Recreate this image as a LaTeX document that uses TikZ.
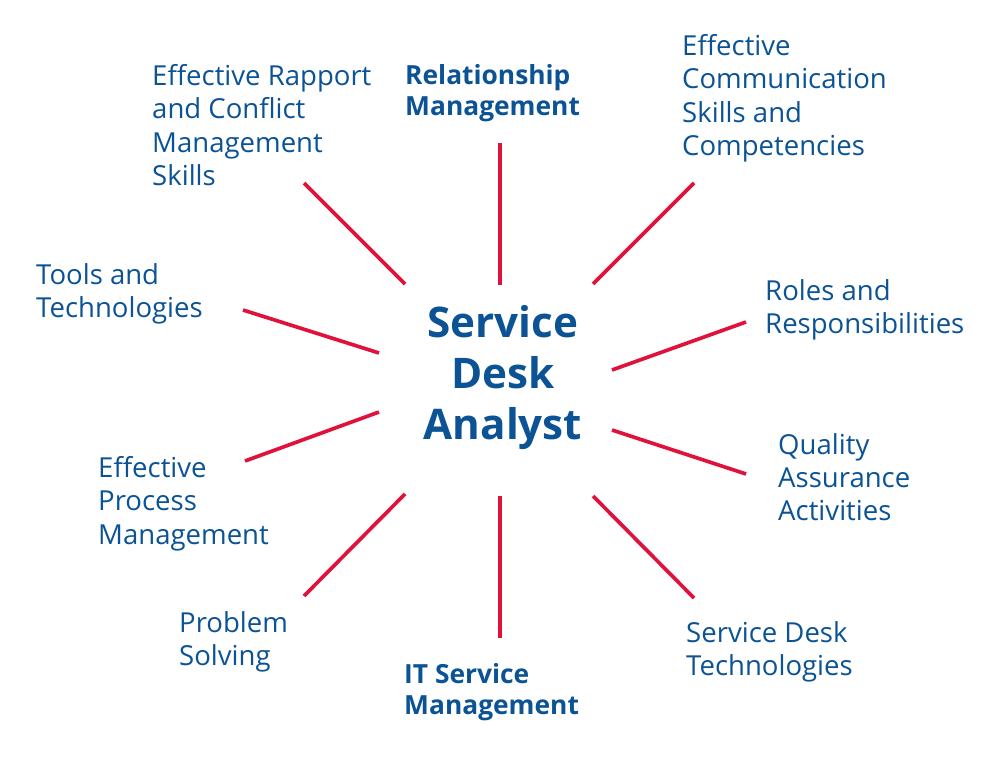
\documentclass[tikz,border=0pt]{standalone}
\usepackage{fontspec}
\setmainfont{Open Sans}
\definecolor{deskblue}{HTML}{0B5394}
\definecolor{spokered}{HTML}{E0123C}
\tikzset{
  spoke/.style={spokered, line width=1.1mm},
  topic/.style={anchor=north west, inner sep=0pt, align=left, text=deskblue,
    font=\fontsize{23.5pt}{28.5pt}\selectfont},
  maintopic/.style={topic, font=\bfseries\fontsize{22.5pt}{26.5pt}\selectfont}
}
\begin{document}
\begin{tikzpicture}[x=0.3mm, y=-0.3mm]
        \useasboundingbox (0,0) rectangle (1001,758);
        % Centre
        \node[text=deskblue, align=center, font=\bfseries\fontsize{36pt}{43.5pt}\selectfont] (analyst) at (503,378) {Service\\Desk\\Analyst};
        % Spokes: inner and outer ends
        \coordinate (a1) at (500,285); \coordinate (b1) at (500,143);
        \coordinate (a2) at (405,284); \coordinate (b2) at (304,183);
        \coordinate (a3) at (593,284); \coordinate (b3) at (694,183);
        \coordinate (a4) at (379,353); \coordinate (b4) at (243,310);
        \coordinate (a5) at (612,370); \coordinate (b5) at (746,322);
        \coordinate (a6) at (379,412); \coordinate (b6) at (245,461);
        \coordinate (a7) at (612,430); \coordinate (b7) at (746,474);
        \coordinate (a8) at (405,494); \coordinate (b8) at (304,596);
        \coordinate (a9) at (593,496); \coordinate (b9) at (694,598);
        \coordinate (a10) at (500,496); \coordinate (b10) at (500,638);
        \foreach \i in {1,...,10}
          \draw[spoke] (a\i) -- (b\i);
        % Topics
        \node[maintopic] (relation) at (405,64) {Relationship\\Management};
        \node[topic] (rapport) at (152,64) {Effective Rapport\\and Conflict\\Management\\Skills};
        \node[topic] (communication) at (682,34) {Effective\\Communication\\Skills and\\Competencies};
        \node[topic] (tools) at (36,263) {Tools and\\Technologies};
        \node[topic] (roles) at (765,279) {Roles and\\Responsibilities};
        \node[topic] (process) at (98,456) {Effective\\Process\\Management};
        \node[topic] (quality) at (778,433) {Quality\\Assurance\\Activities};
        \node[topic] (problem) at (179,611) {Problem\\Solving};
        \node[maintopic] (itsm) at (404,663) {IT Service\\Management};
        \node[topic] (sdtech) at (686,621) {Service Desk\\Technologies};
\end{tikzpicture}
\end{document}
